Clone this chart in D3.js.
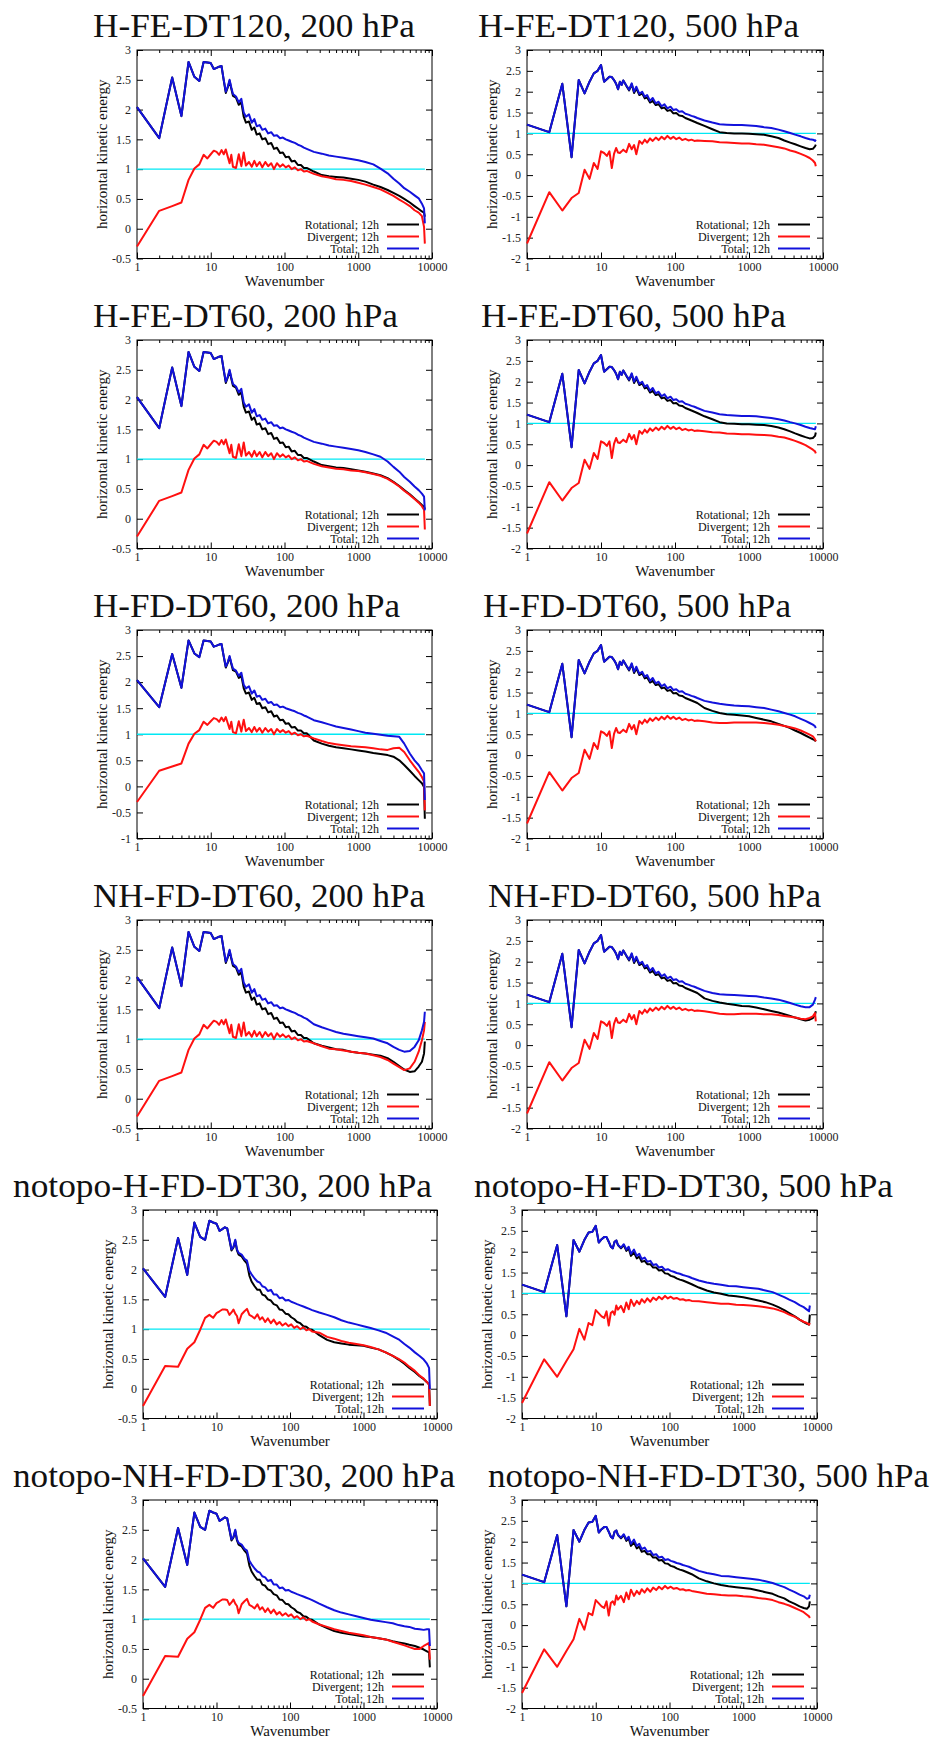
<!DOCTYPE html>
<html>
<head>
<meta charset="utf-8">
<script src="https://cdn.jsdelivr.net/npm/d3@7"></script>
<style>
  body { margin: 0; background: #fff; }
</style>
</head>
<body>
<div id="chart"></div>
<script>
// wavenumber grids: a head part (k <= 200) and a tail part (k > 200)
const kHead = [1,2,3,4,5,6,7,8,9,10,11,12,13,14,15,16,17,18,19,20,
  22,24,26,28,30,33,36,39,42,46,50,55,60,66,72,79,87,95,104,114,125,138,152,167,183,200];
const kTail = [250,320,400,500,630,800,1000,1250,1600,2000,2500,3000,3600,4200,5000,5800,6600,7300,7800,7999];

// 200 hPa, with topography (rows 1-4), k <= 200
const rot200 = [2.04,1.52,2.54,1.89,2.80,2.55,2.48,2.80,2.79,2.78,2.68,2.70,2.72,2.73,2.49,2.28,2.37,2.48,2.35,2.23,
  2.20,2.08,2.12,1.88,1.78,1.80,1.66,1.70,1.58,1.60,1.50,1.52,1.42,1.44,1.34,1.36,1.27,1.28,1.20,1.21,1.13,1.14,1.07,1.07,1.02,1.02];
const div200 = [-0.30,0.30,0.38,0.44,0.82,1.01,1.08,1.24,1.18,1.25,1.31,1.29,1.24,1.32,1.25,1.33,1.21,1.10,1.24,1.04,
  1.02,1.25,1.05,1.28,1.06,1.12,1.04,1.14,1.05,1.12,1.03,1.12,1.05,1.10,1.00,1.10,1.04,1.08,1.03,1.06,1.00,1.03,0.98,1.00,0.96,0.97];
const tot200 = [2.04,1.52,2.54,1.89,2.80,2.55,2.48,2.80,2.79,2.78,2.68,2.70,2.72,2.73,2.50,2.30,2.38,2.50,2.37,2.26,
  2.22,2.12,2.18,1.95,1.88,1.92,1.78,1.84,1.72,1.74,1.66,1.68,1.60,1.62,1.56,1.57,1.52,1.53,1.50,1.48,1.46,1.44,1.41,1.39,1.36,1.34];

// 200 hPa, no topography (rows 5-6), k <= 200
const rot200np = [2.02,1.54,2.53,1.91,2.79,2.55,2.50,2.82,2.79,2.77,2.65,2.68,2.71,2.69,2.50,2.32,2.37,2.48,2.32,2.25,
  2.22,2.15,2.10,1.90,1.80,1.72,1.66,1.66,1.58,1.56,1.50,1.48,1.42,1.40,1.33,1.32,1.26,1.25,1.20,1.17,1.12,1.10,1.05,1.04,1.00,0.99];
const div200np = [-0.29,0.38,0.37,0.67,0.78,0.99,1.19,1.24,1.19,1.27,1.30,1.33,1.33,1.32,1.24,1.28,1.33,1.26,1.22,1.10,
  1.25,1.30,1.34,1.24,1.22,1.18,1.25,1.16,1.20,1.12,1.18,1.10,1.16,1.08,1.12,1.06,1.10,1.05,1.08,1.02,1.05,1.00,1.03,0.98,1.00,0.96];
const tot200np = [2.02,1.54,2.53,1.91,2.79,2.55,2.50,2.82,2.79,2.77,2.65,2.68,2.71,2.69,2.51,2.34,2.38,2.50,2.34,2.28,
  2.25,2.18,2.15,1.98,1.92,1.85,1.80,1.78,1.72,1.70,1.64,1.66,1.58,1.58,1.52,1.53,1.48,1.49,1.46,1.44,1.42,1.40,1.38,1.36,1.34,1.32];

// 500 hPa, with topography (rows 1-4), k <= 200
const rot500 = [1.21,1.03,2.19,0.43,2.28,1.96,2.24,2.44,2.50,2.64,2.24,2.30,2.36,2.35,2.28,2.19,2.06,2.24,2.16,2.27,
  2.14,2.03,2.18,1.97,2.08,1.92,1.96,1.84,1.86,1.74,1.78,1.68,1.70,1.60,1.62,1.54,1.56,1.48,1.49,1.43,1.42,1.37,1.34,1.31,1.28,1.25];
const div500 = [-1.64,-0.41,-0.85,-0.55,-0.43,0.13,-0.09,0.29,0.15,0.57,0.53,0.46,0.57,0.17,0.51,0.65,0.54,0.53,0.57,0.61,
  0.55,0.75,0.62,0.72,0.50,0.82,0.75,0.85,0.78,0.88,0.82,0.90,0.84,0.92,0.86,0.94,0.87,0.92,0.86,0.90,0.84,0.87,0.83,0.85,0.82,0.83];
const tot500 = [1.21,1.03,2.19,0.43,2.28,1.96,2.24,2.44,2.50,2.64,2.24,2.30,2.36,2.35,2.28,2.19,2.06,2.24,2.16,2.27,
  2.15,2.05,2.20,2.00,2.12,1.95,2.00,1.88,1.92,1.78,1.85,1.72,1.76,1.65,1.70,1.60,1.64,1.56,1.58,1.52,1.53,1.47,1.45,1.42,1.40,1.37];

// 500 hPa, no topography (rows 5-6), k <= 200
const rot500np = [1.21,1.03,2.16,0.45,2.28,2.00,2.28,2.46,2.48,2.62,2.22,2.30,2.35,2.35,2.24,2.12,2.08,2.24,2.27,2.16,
  2.08,2.16,2.02,2.08,1.90,1.98,1.84,1.88,1.76,1.78,1.70,1.70,1.62,1.62,1.55,1.56,1.48,1.47,1.42,1.40,1.36,1.33,1.31,1.28,1.25,1.22];
const div500np = [-1.63,-0.58,-1.00,-0.62,-0.34,0.15,-0.11,0.29,0.24,0.60,0.52,0.45,0.41,0.57,0.23,0.53,0.57,0.49,0.71,0.61,
  0.70,0.55,0.78,0.62,0.85,0.70,0.82,0.74,0.86,0.78,0.88,0.80,0.90,0.84,0.92,0.86,0.94,0.88,0.92,0.87,0.89,0.85,0.86,0.83,0.84,0.82];
const tot500np = [1.21,1.03,2.16,0.45,2.28,2.00,2.28,2.46,2.48,2.62,2.22,2.30,2.35,2.35,2.24,2.12,2.08,2.24,2.27,2.16,
  2.10,2.18,2.05,2.12,1.95,2.05,1.90,1.95,1.82,1.86,1.76,1.78,1.68,1.70,1.62,1.64,1.56,1.58,1.54,1.52,1.49,1.47,1.44,1.42,1.40,1.37];

// tails (k > 200), one set per panel
const rot_HFE120_200 = [0.96,0.90,0.88,0.87,0.86,0.84,0.82,0.79,0.74,0.70,0.65,0.60,0.55,0.50,0.44,0.38,0.33,0.29,0.27,0.20];
const div_HFE120_200 = [0.92,0.88,0.86,0.83,0.82,0.80,0.77,0.74,0.70,0.66,0.60,0.55,0.49,0.44,0.38,0.31,0.27,0.21,0.03,-0.25];
const tot_HFE120_200 = [1.29,1.26,1.23,1.21,1.19,1.17,1.15,1.12,1.08,1.01,0.93,0.84,0.76,0.68,0.62,0.56,0.51,0.42,0.34,0.09];

const rot_HFE120_500 = [1.18,1.10,1.03,1.01,1.00,1.00,0.99,0.98,0.97,0.93,0.89,0.83,0.78,0.74,0.69,0.65,0.62,0.63,0.69,0.73];
const div_HFE120_500 = [0.82,0.81,0.79,0.78,0.77,0.76,0.76,0.74,0.73,0.70,0.67,0.64,0.59,0.56,0.51,0.46,0.41,0.35,0.29,0.21];
const tot_HFE120_500 = [1.31,1.26,1.22,1.21,1.20,1.20,1.19,1.18,1.15,1.13,1.09,1.05,1.01,0.97,0.93,0.89,0.86,0.85,0.82,0.85];

const rot_HFE60_200 = [0.96,0.90,0.88,0.86,0.85,0.83,0.81,0.79,0.76,0.73,0.68,0.62,0.55,0.48,0.41,0.34,0.28,0.23,0.20,0.16];
const div_HFE60_200 = [0.92,0.88,0.86,0.84,0.83,0.81,0.80,0.78,0.75,0.72,0.67,0.61,0.54,0.47,0.40,0.33,0.27,0.21,0.15,-0.18];
const tot_HFE60_200 = [1.29,1.26,1.23,1.21,1.19,1.17,1.15,1.12,1.08,1.04,0.96,0.87,0.79,0.70,0.62,0.54,0.48,0.42,0.37,0.14];

const rot_HFE60_500 = [1.17,1.10,1.03,1.00,0.99,0.98,0.98,0.97,0.96,0.94,0.90,0.86,0.81,0.76,0.71,0.67,0.64,0.65,0.70,0.78];
const div_HFE60_500 = [0.81,0.79,0.78,0.76,0.75,0.74,0.74,0.73,0.72,0.71,0.68,0.66,0.62,0.58,0.53,0.48,0.42,0.37,0.33,0.28];
const tot_HFE60_500 = [1.30,1.26,1.22,1.20,1.19,1.18,1.18,1.17,1.15,1.13,1.10,1.07,1.03,1.00,0.96,0.92,0.89,0.87,0.86,0.93];

const rot_HFD60_200 = [0.88,0.82,0.78,0.75,0.73,0.71,0.69,0.67,0.64,0.62,0.60,0.57,0.50,0.41,0.30,0.20,0.12,0.06,-0.01,-0.62];
const div_HFD60_200 = [0.92,0.87,0.83,0.81,0.79,0.77,0.76,0.75,0.73,0.71,0.70,0.73,0.74,0.66,0.50,0.38,0.28,0.18,0.09,-0.46];
const tot_HFD60_200 = [1.27,1.23,1.19,1.15,1.12,1.09,1.06,1.03,1.01,0.99,0.97,0.96,0.95,0.82,0.63,0.50,0.41,0.31,0.25,-0.26];

const rot_HFD60_500 = [1.13,1.06,1.01,0.98,0.97,0.95,0.93,0.89,0.85,0.81,0.75,0.70,0.65,0.59,0.53,0.47,0.42,0.38,0.35,0.33];
const div_HFD60_500 = [0.81,0.78,0.77,0.77,0.78,0.78,0.78,0.78,0.77,0.75,0.73,0.70,0.67,0.64,0.59,0.54,0.49,0.45,0.38,0.33];
const tot_HFD60_500 = [1.30,1.26,1.23,1.21,1.19,1.18,1.17,1.15,1.13,1.09,1.05,1.01,0.97,0.93,0.87,0.82,0.77,0.73,0.69,0.65];

const rot_NHFD60_200 = [0.93,0.89,0.86,0.83,0.82,0.79,0.77,0.76,0.74,0.72,0.68,0.62,0.55,0.49,0.45,0.46,0.54,0.62,0.76,0.96];
const div_NHFD60_200 = [0.93,0.88,0.84,0.83,0.81,0.79,0.77,0.76,0.73,0.70,0.65,0.59,0.53,0.48,0.51,0.62,0.79,0.98,1.15,1.29];
const tot_NHFD60_200 = [1.25,1.20,1.16,1.12,1.09,1.07,1.05,1.03,1.01,0.97,0.93,0.87,0.82,0.79,0.80,0.87,0.98,1.15,1.29,1.46];

const rot_NHFD60_500 = [1.12,1.06,1.02,0.99,0.97,0.94,0.93,0.90,0.86,0.82,0.78,0.74,0.70,0.66,0.62,0.59,0.61,0.65,0.73,0.81];
const div_NHFD60_500 = [0.81,0.78,0.75,0.74,0.74,0.75,0.75,0.75,0.74,0.74,0.72,0.70,0.68,0.66,0.63,0.62,0.65,0.69,0.77,0.57];
const tot_NHFD60_500 = [1.30,1.25,1.22,1.21,1.20,1.19,1.18,1.17,1.14,1.12,1.09,1.05,1.01,0.97,0.93,0.91,0.91,0.97,1.09,1.15];

const rot_npHFD30_200 = [0.90,0.82,0.78,0.76,0.74,0.73,0.72,0.69,0.66,0.61,0.55,0.49,0.42,0.35,0.28,0.21,0.16,0.11,0.07,-0.29];
const div_npHFD30_200 = [0.94,0.87,0.84,0.80,0.77,0.75,0.73,0.70,0.66,0.61,0.55,0.50,0.44,0.37,0.30,0.22,0.17,0.11,0.07,-0.29];
const tot_npHFD30_200 = [1.28,1.24,1.20,1.15,1.11,1.08,1.05,1.02,0.98,0.94,0.88,0.83,0.75,0.69,0.61,0.55,0.49,0.42,0.35,-0.01];

const rot_npHFD30_500 = [1.14,1.07,1.02,0.99,0.95,0.93,0.91,0.87,0.83,0.79,0.73,0.67,0.60,0.53,0.45,0.37,0.31,0.27,0.25,0.49];
const div_npHFD30_500 = [0.81,0.79,0.77,0.75,0.75,0.73,0.72,0.71,0.69,0.67,0.64,0.60,0.55,0.49,0.44,0.37,0.32,0.29,0.25,0.29];
const tot_npHFD30_500 = [1.31,1.26,1.23,1.21,1.18,1.17,1.15,1.13,1.11,1.07,1.03,0.97,0.91,0.85,0.79,0.72,0.67,0.61,0.57,0.71];

const rot_npNHFD30_200 = [0.91,0.85,0.80,0.77,0.75,0.73,0.71,0.70,0.68,0.66,0.63,0.61,0.59,0.57,0.55,0.52,0.49,0.46,0.44,0.19];
const div_npNHFD30_200 = [0.91,0.87,0.83,0.80,0.77,0.75,0.73,0.70,0.68,0.66,0.62,0.59,0.56,0.53,0.50,0.50,0.55,0.58,0.60,0.32];
const tot_npNHFD30_200 = [1.26,1.20,1.15,1.11,1.08,1.05,1.02,0.99,0.97,0.95,0.93,0.90,0.88,0.87,0.84,0.83,0.82,0.83,0.83,0.55];

const rot_npNHFD30_500 = [1.12,1.05,1.00,0.96,0.93,0.91,0.89,0.87,0.83,0.79,0.75,0.69,0.64,0.57,0.51,0.45,0.41,0.39,0.45,0.57];
const div_npNHFD30_500 = [0.79,0.75,0.74,0.72,0.71,0.71,0.69,0.68,0.65,0.63,0.60,0.55,0.51,0.47,0.41,0.36,0.31,0.25,0.21,0.17];
const tot_npNHFD30_500 = [1.30,1.25,1.22,1.18,1.17,1.15,1.13,1.11,1.09,1.05,1.01,0.96,0.91,0.85,0.79,0.73,0.69,0.63,0.65,0.73];

const titles = [
  "H-FE-DT120, 200 hPa", "H-FE-DT120, 500 hPa",
  "H-FE-DT60, 200 hPa", "H-FE-DT60, 500 hPa",
  "H-FD-DT60, 200 hPa", "H-FD-DT60, 500 hPa",
  "NH-FD-DT60, 200 hPa", "NH-FD-DT60, 500 hPa",
  "notopo-H-FD-DT30, 200 hPa", "notopo-H-FD-DT30, 500 hPa",
  "notopo-NH-FD-DT30, 200 hPa", "notopo-NH-FD-DT30, 500 hPa"
];
const legendLabels = ["Rotational; 12h", "Divergent; 12h", "Total; 12h"];
const xTickValues = [1, 10, 100, 1000, 10000];
const refLevel = 1;

// series per panel, in drawing order rotational / divergent / total
const panelSeries = [
  [rot200.concat(rot_HFE120_200), div200.concat(div_HFE120_200), tot200.concat(tot_HFE120_200)],
  [rot500.concat(rot_HFE120_500), div500.concat(div_HFE120_500), tot500.concat(tot_HFE120_500)],
  [rot200.concat(rot_HFE60_200), div200.concat(div_HFE60_200), tot200.concat(tot_HFE60_200)],
  [rot500.concat(rot_HFE60_500), div500.concat(div_HFE60_500), tot500.concat(tot_HFE60_500)],
  [rot200.concat(rot_HFD60_200), div200.concat(div_HFD60_200), tot200.concat(tot_HFD60_200)],
  [rot500.concat(rot_HFD60_500), div500.concat(div_HFD60_500), tot500.concat(tot_HFD60_500)],
  [rot200.concat(rot_NHFD60_200), div200.concat(div_NHFD60_200), tot200.concat(tot_NHFD60_200)],
  [rot500.concat(rot_NHFD60_500), div500.concat(div_NHFD60_500), tot500.concat(tot_NHFD60_500)],
  [rot200np.concat(rot_npHFD30_200), div200np.concat(div_npHFD30_200), tot200np.concat(tot_npHFD30_200)],
  [rot500np.concat(rot_npHFD30_500), div500np.concat(div_npHFD30_500), tot500np.concat(tot_npHFD30_500)],
  [rot200np.concat(rot_npNHFD30_200), div200np.concat(div_npNHFD30_200), tot200np.concat(tot_npNHFD30_200)],
  [rot500np.concat(rot_npNHFD30_500), div500np.concat(div_npNHFD30_500), tot500np.concat(tot_npNHFD30_500)]
];
const kAll = kHead.concat(kTail);

// pick a serif face if one is installed, else a plain sans
function fontAvailable(name) {
  const ctx = document.createElement("canvas").getContext("2d");
  const s = "H-FE-DT120, 200 hPa Wavenumber energy";
  return ["monospace", "sans-serif"].some(function (base) {
    ctx.font = `40px ${base}`;
    const w0 = ctx.measureText(s).width;
    ctx.font = `40px "${name}", ${base}`;
    return ctx.measureText(s).width !== w0;
  });
}
const serifFace = ["Liberation Serif", "DejaVu Serif", "Noto Serif", "Tinos", "Times New Roman", "FreeSerif"]
  .find(fontAvailable);
const face = serifFace ? `"${serifFace}", serif` : `"Liberation Sans", Arial, sans-serif`;
const fs = serifFace
  ? { title: 33, label: 15, tick: 12, legend: 12 }
  : { title: 31, label: 14, tick: 11, legend: 11 };

// layout (pixels)
const svgWidth = 933, svgHeight = 1739, rowHeight = 290;
const plotX = [[137, 432], [527, 823], [143, 437], [522, 817]];
const titlePos = [[93, 322], [478, 321], [93, 305], [481, 305], [93, 307], [483, 308],
  [93, 332], [488, 333], [13, 419], [474, 419], [13, 442], [488, 441]];
const colors = ["#000000", "#ff1010", "#1212dc"];

const svg = d3.select("#chart").append("svg")
  .attr("width", svgWidth)
  .attr("height", svgHeight)
  .style("background", "#fff")
  .style("font-family", face);

titles.forEach(function (title, i) {
  const row = Math.floor(i / 2), col = i % 2;
  const xr = plotX[(row >= 4 ? 2 : 0) + col];
  const top = row * rowHeight + 50, bottom = row * rowHeight + 258.5;
  const yDomain = col === 1 ? [-2, 3] : (i === 4 ? [-1, 3] : [-0.5, 3]);

  const x = d3.scaleLog().domain([1, 10000]).range(xr);
  const y = d3.scaleLinear().domain(yDomain).range([bottom, top]);

  const g = svg.append("g");

  // title
  g.append("text")
    .attr("x", titlePos[i][0])
    .attr("y", row * rowHeight + 37)
    .attr("textLength", titlePos[i][1])
    .attr("lengthAdjust", "spacingAndGlyphs")
    .style("font-family", face)
    .style("font-size", fs.title + "px")
    .style("fill", "#111")
    .text(title);

  // minor log ticks 2..9 in each decade
  const minor = [];
  for (let d = 1; d < 10000; d *= 10) {
    for (let m = 2; m < 10; m++) minor.push(d * m);
  }
  const yTicks = d3.range(yDomain[0], yDomain[1] + 0.01, 0.5);

  const axes = [
    { a: d3.axisBottom(x).tickValues(xTickValues).tickSize(-6).tickPadding(4).tickFormat(d3.format("d")), t: `translate(0,${bottom})` },
    { a: d3.axisBottom(x).tickValues(minor).tickSize(-3).tickFormat(""), t: `translate(0,${bottom})` },
    { a: d3.axisTop(x).tickValues(xTickValues).tickSize(-6).tickFormat(""), t: `translate(0,${top})` },
    { a: d3.axisTop(x).tickValues(minor).tickSize(-3).tickFormat(""), t: `translate(0,${top})` },
    { a: d3.axisLeft(y).tickValues(yTicks).tickSize(-6).tickPadding(6).tickFormat(d => String(+d.toFixed(1))), t: `translate(${xr[0]},0)` },
    { a: d3.axisRight(y).tickValues(yTicks).tickSize(-6).tickFormat(""), t: `translate(${xr[1]},0)` }
  ];
  axes.forEach(function (ax) {
    const ag = g.append("g").attr("transform", ax.t).call(ax.a);
    ag.select(".domain").remove();
    ag.selectAll("line").attr("stroke", "#000");
    ag.selectAll("text")
      .style("font-family", face)
      .style("font-size", fs.tick + "px")
      .style("fill", "#222");
  });

  // frame
  g.append("rect")
    .attr("x", xr[0]).attr("y", top)
    .attr("width", xr[1] - xr[0]).attr("height", bottom - top)
    .attr("fill", "none").attr("stroke", "#000").attr("stroke-width", 1);

  // reference line at 1
  g.append("line")
    .attr("x1", x(kAll[0])).attr("x2", x(kAll[kAll.length - 1]))
    .attr("y1", y(refLevel)).attr("y2", y(refLevel))
    .attr("stroke", "#00e8f4").attr("stroke-width", 1.4);

  // spectra
  const line = d3.line()
    .x(d => x(d[0]))
    .y(d => y(d[1]));
  panelSeries[i].forEach(function (vals, s) {
    const pts = kAll.map((k, j) => [k, vals[j]]).filter(p => p[1] !== undefined);
    g.append("path")
      .datum(pts)
      .attr("d", line)
      .attr("fill", "none")
      .attr("stroke", colors[s])
      .attr("stroke-width", 2)
      .attr("stroke-linejoin", "round");
  });

  // axis titles
  g.append("text")
    .attr("transform", `translate(${xr[0] - 30},${(top + bottom) / 2}) rotate(-90)`)
    .attr("text-anchor", "middle")
    .style("font-size", fs.label + "px")
    .style("fill", "#111")
    .text("horizontal kinetic energy");

  g.append("text")
    .attr("x", (xr[0] + xr[1]) / 2)
    .attr("y", bottom + 27)
    .attr("text-anchor", "middle")
    .style("font-size", fs.label + "px")
    .style("fill", "#111")
    .text("Wavenumber");

  // legend
  legendLabels.forEach(function (lab, s) {
    const ly = bottom - 34 + s * 12;
    g.append("text")
      .attr("x", xr[1] - 53)
      .attr("y", ly + 4)
      .attr("text-anchor", "end")
      .style("font-size", fs.legend + "px")
      .style("fill", "#111")
      .text(lab);
    g.append("line")
      .attr("x1", xr[1] - 45).attr("x2", xr[1] - 13)
      .attr("y1", ly).attr("y2", ly)
      .attr("stroke", colors[s]).attr("stroke-width", 2);
  });
});
</script>
</body>
</html>
